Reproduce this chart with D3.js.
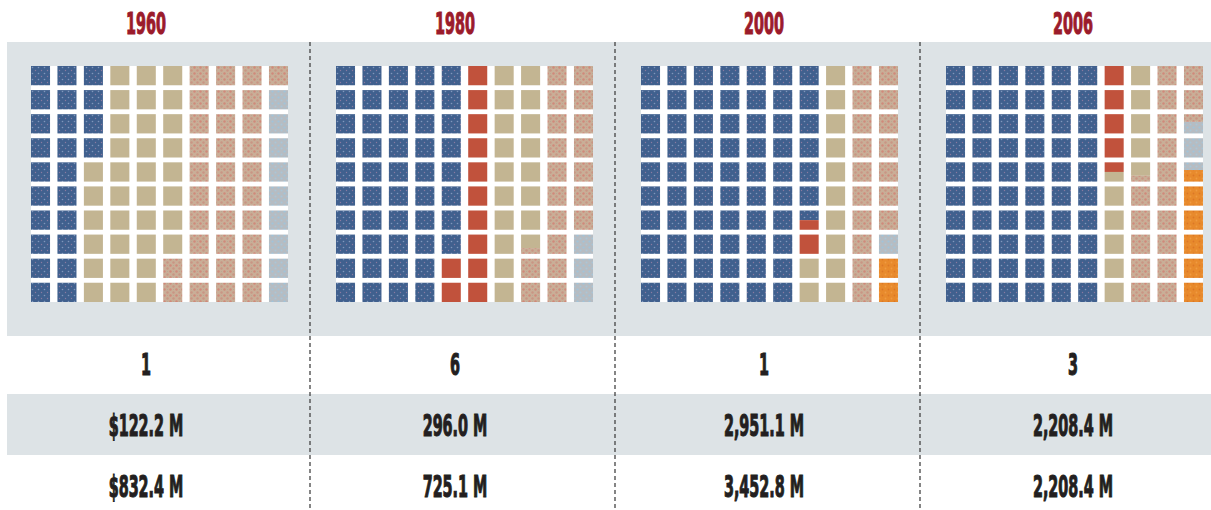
<!DOCTYPE html>
<html lang="en">
<head>
  <meta charset="UTF-8">
  <title>Waffle</title>
  <script src="https://cdn.jsdelivr.net/npm/d3@7"></script>
  <style>
    body { margin: 0; background: #fff; }
    text { font-family: "Liberation Sans Narrow", "DejaVu Sans Condensed", sans-serif; font-weight: bold; }
  </style>
</head>
<body>
  <script>
    // data (share of 100 cells)
    var years = ["1960", "1980", "2000", "2006"];
    var categories = ["navy", "red", "tan", "rose", "silver", "orange"];
    var navy = [24, 48, 66.5, 60];
    var red = [0, 12, 1.5, 4.5];
    var tan = [34, 17.7, 12, 10.2];
    var rose = [33, 19.3, 17, 17.7];
    var silver = [9, 3, 1, 2];
    var orange = [0, 0, 2, 5.6];
    var counts = ["1", "6", "1", "3"];
    var rowA = ["$122.2 M", "296.0 M", "2,951.1 M", "2,208.4 M"];
    var rowB = ["$832.4 M", "725.1 M", "3,452.8 M", "2,208.4 M"];

    var series = { navy: navy, red: red, tan: tan, rose: rose, silver: silver, orange: orange };

    var W = 1211, H = 510;
    var svg = d3.select("body").append("svg").attr("width", W).attr("height", H);

    /* PATTERNS */
    var defs = svg.append("defs");
    function dotted(id, base, dots) {
      var p = defs.append("pattern").attr("id", id)
        .attr("patternUnits", "userSpaceOnUse").attr("width", 6).attr("height", 6);
      p.append("rect").attr("width", 6).attr("height", 6).attr("fill", base);
      dots.forEach(d => p.append("circle").attr("cx", d[0]).attr("cy", d[1]).attr("r", d[2]).attr("fill", d[3]));
    }
    dotted("p-navy", "#40608e", [[1.5, 1.5, 0.8, "#7f97bb"], [4.5, 4.5, 0.7, "#8a7aa0"]]);
    dotted("p-rose", "#c9ae97", [[1.5, 1.5, 1.2, "#d0897a"], [4.5, 4.5, 1.2, "#c99584"], [4.5, 1.5, 0.6, "#b7a794"]]);
    dotted("p-silver", "#b6bcc2", [[1.5, 1.5, 1.1, "#9fc4db"], [4.5, 4.5, 1.0, "#a9c6d8"]]);
    dotted("p-orange", "#e88a2c", [[1.5, 1.5, 0.9, "#dc7626"], [4.5, 4.5, 0.9, "#f09a42"]]);
    var fills = {
      navy: "url(#p-navy)", red: "#c1523c", tan: "#c3b592",
      rose: "url(#p-rose)", silver: "url(#p-silver)", orange: "url(#p-orange)"
    };

    /* SCALES */
    var panelX = d3.scaleBand().domain(years).range([5, 1225]);
    var textX = d3.scalePoint().domain(years).range([146, 1073]);
    var colX = d3.scaleBand().domain(d3.range(10)).range([0, 257]).paddingInner(0.28);
    var rowY = d3.scaleBand().domain(d3.range(10)).range([0, 236]).paddingInner(0.2);
    var frac = d3.scaleLinear().domain([0, 1]).range([0, rowY.bandwidth()]);

    // backgrounds
    svg.append("rect").attr("x", 7).attr("y", 42).attr("width", W - 7).attr("height", 294).attr("fill", "#dde3e6");
    svg.append("rect").attr("x", 7).attr("y", 394).attr("width", W - 7).attr("height", 61).attr("fill", "#dde3e6");

    /* WAFFLES */
    years.forEach(function(yr, yi) {
      // cumulative segments, filled column by column from the top
      var segs = [], acc = 0;
      categories.forEach(function(c) {
        var v = series[c][yi];
        if (v > 0) segs.push({ cat: c, a: acc, b: acc + v });
        acc += v;
      });
      var pieces = [];
      d3.range(100).forEach(function(i) {
        segs.forEach(function(s) {
          var lo = Math.max(s.a, i), hi = Math.min(s.b, i + 1);
          if (hi > lo) pieces.push({ col: Math.floor(i / 10), row: i % 10, f0: lo - i, f1: hi - i, cat: s.cat });
        });
      });

      var g = svg.append("g").attr("transform", "translate(" + (panelX(yr) + 26) + ",66)");
      g.append("rect").attr("width", 257).attr("height", 236).attr("fill", "#fff");
      g.selectAll("rect.cell").data(pieces).enter().append("rect")
        .attr("class", "cell")
        .attr("x", d => colX(d.col))
        .attr("y", d => rowY(d.row) + frac(d.f0))
        .attr("width", colX.bandwidth())
        .attr("height", d => frac(d.f1) - frac(d.f0))
        .attr("fill", d => fills[d.cat]);
    });

    /* TEXT */
    // squeeze the fallback font so "1960" is ~40px wide, like the condensed original
    var probe = svg.append("text").attr("font-size", 30).text("1960");
    var squeeze = 40 / probe.node().getComputedTextLength();
    probe.remove();

    function label(arr, y, color) {
      svg.selectAll(null).data(years).enter().append("text")
        .attr("transform", d => "translate(" + textX(d) + "," + y + ") scale(" + squeeze + ",1)")
        .attr("text-anchor", "middle")
        .attr("font-size", 30)
        .attr("fill", color)
        .attr("stroke", color)
        .attr("stroke-width", 1.1)
        .text((d, i) => arr[i]);
    }
    label(years, 34, "#9b1b2b");
    label(counts, 375, "#231f20");
    label(rowA, 436, "#231f20");
    label(rowB, 497, "#231f20");

    // dashed dividers
    svg.selectAll("line.div").data(years.slice(1)).enter().append("line")
      .attr("class", "div")
      .attr("x1", d => panelX(d)).attr("x2", d => panelX(d))
      .attr("y1", 42).attr("y2", H)
      .attr("stroke", "#444").attr("stroke-width", 1.3).attr("stroke-dasharray", "4,3");
  </script>
</body>
</html>
